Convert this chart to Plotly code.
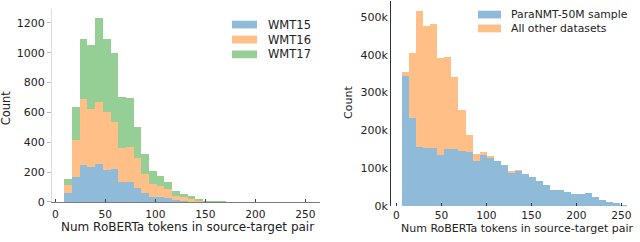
import plotly.graph_objects as go

# ---------------- data ----------------
# Left panel: stacked histogram of WMT15/16/17 (bin start, bin width in tokens)
left_bin_start = 9.0
left_bin_width = 7.7
wmt15 = [61, 167, 250, 234, 256, 219, 221, 139, 137, 93, 61, 37, 35, 30, 12, 8, 4, 2, 1, 0, 0, 0, 0, 0, 0, 0, 0, 0, 0, 0, 0, 1]
wmt16 = [54, 252, 444, 393, 414, 386, 315, 223, 230, 206, 130, 83, 75, 58, 33, 28, 21, 10, 5, 2, 1, 1, 0, 0, 0, 0, 0, 0, 0, 0, 0, 0]
wmt17 = [43, 217, 402, 430, 563, 491, 462, 343, 334, 207, 130, 90, 66, 47, 29, 20, 14, 10, 2, 1, 1, 0, 0, 0, 0, 0, 0, 0, 0, 0, 0, 0]

# Right panel: stacked histogram, values in thousands
right_bin_start = 6.5
right_bin_width = 7.8
paranmt = [345, 232, 157, 153, 154, 134, 152, 150, 146, 143, 120, 134, 128, 119, 110, 90, 94, 85, 76, 66, 56, 44, 43, 38, 31, 33, 35, 25, 16, 11, 9, 3]
others  = [9, 172, 358, 322, 328, 258, 242, 191, 107, 46, 18, 8, 3, 0, 0, 1, 1, 0, 0, 0, 0, 0, 0, 0, 0, 0, 0, 0, 0, 0, 0, 0]

x_ticks = [0, 50, 100, 150, 200, 250]
left_y_ticks = [0, 200, 400, 600, 800, 1000, 1200]
right_y_ticks = [0, 100, 200, 300, 400, 500]
right_y_ticktext = ["0k", "100k", "200k", "300k", "400k", "500k"]

left_names = ["WMT15", "WMT16", "WMT17"]
right_names = ["ParaNMT-50M sample", "All other datasets"]
x_title = "Num RoBERTa tokens in source-target pair"
y_title = "Count"

BLUE = "#8fbbd9"
ORANGE = "#ffbf86"
GREEN = "#95cf95"
FONT = "DejaVu Sans"

W, H = 640, 242


def centers(start, width, n):
    return [start + width * (i + 0.5) for i in range(n)]


lx = centers(left_bin_start, left_bin_width, len(wmt15))
rx = centers(right_bin_start, right_bin_width, len(paranmt))

fig = go.Figure()
for vals, name, col in zip([wmt15, wmt16, wmt17], left_names, [BLUE, ORANGE, GREEN]):
    fig.add_trace(go.Bar(x=lx, y=vals, width=left_bin_width, name=name,
                         marker=dict(color=col, line=dict(width=0)),
                         xaxis="x", yaxis="y", showlegend=False))
for vals, name, col in zip([paranmt, others], right_names, [BLUE, ORANGE]):
    fig.add_trace(go.Bar(x=rx, y=vals, width=right_bin_width, name=name,
                         marker=dict(color=col, line=dict(width=0)),
                         xaxis="x2", yaxis="y2", showlegend=False))


def px(x):
    return x / W


def py(y):
    return (H - y) / H


fig.update_layout(
    width=W, height=H, margin=dict(l=0, r=0, t=0, b=0),
    paper_bgcolor="white", plot_bgcolor="white",
    barmode="stack", bargap=0,
    font=dict(family=FONT, color="#222222"),
    xaxis=dict(domain=[px(52), px(320)], range=[-3.3, 264.7],
               tickvals=x_ticks, ticks="inside", ticklen=3, tickcolor="#444",
               ticklabelstandoff=2,
               showline=True, linecolor="rgba(90,90,90,0.8)", linewidth=1,
               showgrid=False, zeroline=False, tickfont=dict(size=10.6),
               anchor="y"),
    yaxis=dict(domain=[py(208), py(9)], range=[0, 1295],
               tickvals=left_y_ticks, ticks="outside", ticklen=4, tickcolor="#bbbbbb",
               showline=True, linecolor="#dddddd", linewidth=1,
               showgrid=False, zeroline=False, tickfont=dict(size=11),
               anchor="x"),
    xaxis2=dict(domain=[px(391), px(640)], range=[-6.1, 270.6],
                tickvals=x_ticks, ticks="inside", ticklen=3, tickcolor="#333",
                ticklabelstandoff=1,
                showline=False, showgrid=False, zeroline=False,
                tickfont=dict(size=10.6), anchor="y2"),
    yaxis2=dict(domain=[py(212.3), py(1)], range=[0, 541.8],
                tickvals=right_y_ticks, ticktext=right_y_ticktext, ticks="",
                showline=True, linecolor="#333333", linewidth=1,
                showgrid=False, zeroline=False, tickfont=dict(size=11),
                anchor="x2"),
)

# axis titles
ann = [
    dict(text=x_title, x=px(187.5), y=py(234), font=dict(size=12)),
    dict(text=x_title, x=px(517), y=py(235.5), font=dict(size=11)),
    dict(text=y_title, x=px(6.8), y=py(110.7), textangle=-90, font=dict(size=11.5)),
    dict(text=y_title, x=px(349), y=py(106), textangle=-90, font=dict(size=11)),
]
for a in ann:
    fig.add_annotation(xref="paper", yref="paper", showarrow=False,
                       xanchor="center", yanchor="middle", borderpad=0, **a)

# manual legends (matplotlib-style wide patches)
shapes = []
left_rows = [25.3, 40.7, 56.0]
for name, col, yc in zip(left_names, [BLUE, ORANGE, GREEN], left_rows):
    shapes.append(dict(type="rect", xref="paper", yref="paper",
                       x0=px(232), x1=px(257), y0=py(yc + 4), y1=py(yc - 4),
                       fillcolor=col, line=dict(width=0)))
    fig.add_annotation(xref="paper", yref="paper", showarrow=False,
                       x=px(266), y=py(yc), xanchor="left", yanchor="middle",
                       text=name, font=dict(size=11.5))
right_rows = [15.0, 29.3]
for name, col, yc in zip(right_names, [BLUE, ORANGE], right_rows):
    shapes.append(dict(type="rect", xref="paper", yref="paper",
                       x0=px(478), x1=px(501), y0=py(yc + 4), y1=py(yc - 4),
                       fillcolor=col, line=dict(width=0)))
    fig.add_annotation(xref="paper", yref="paper", showarrow=False,
                       x=px(509), y=py(yc), xanchor="left", yanchor="middle",
                       text=name, font=dict(size=10.8))
fig.update_layout(shapes=shapes)

fig.write_html("out.html", config={"displayModeBar": False},
               post_script="document.body.style.margin='0';document.body.style.padding='0';")
